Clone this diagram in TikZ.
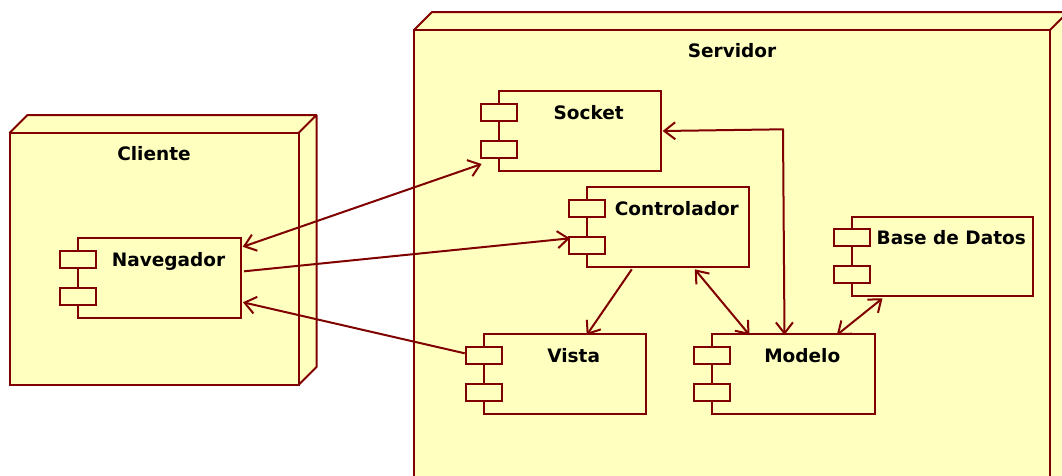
\documentclass[tikz,border=0pt]{standalone}
\usepackage{fontspec}
\setmainfont{DejaVu Sans}
\usetikzlibrary{calc,arrows.meta}
\definecolor{umlline}{RGB}{128,0,0}
\definecolor{umlfill}{RGB}{255,255,192}
\tikzset{
  box/.style={draw=umlline,fill=umlfill,line width=2pt,rectangle,inner sep=0pt,outer sep=0pt,anchor=north west},
  tabbox/.style={draw=umlline,fill=umlfill,line width=2pt,rectangle,inner sep=0pt,outer sep=0pt,minimum width=36pt,minimum height=17pt},
  lbl/.style={font=\fontsize{18.5}{20}\selectfont\bfseries,inner sep=0pt,anchor=base},
  conn/.style={draw=umlline,line width=2pt},
  tip/.tip={Straight Barb[length=11pt,width=17pt,line width=2pt]},
}
% component: name, x, y, width, height, text
\newcommand\umlcomp[6]{%
  \node[box,minimum width=#4pt,minimum height=#5pt] (#1) at (#2,#3) {};
  \node[tabbox] (#1-t1) at ($(#1.north west)+(0,21)$) {};
  \node[tabbox] (#1-t2) at ($(#1.north west)+(0,58)$) {};
  \node[lbl] (#1-l) at ($(#1.north west)+({(#4+18)/2},28)$) {#6};
}
% deployment node: name, x, y, width, height, text
\newcommand\umldepl[6]{%
  \fill[umlfill] (#2,#3) -- ++(18,-18) -- ++(#4,0) -- ++(0,#5) -- ++(-18,18) -- ++(0,-#5) -- cycle;
  \node[box,minimum width=#4pt,minimum height=#5pt] (#1) at (#2,#3) {};
  \draw[umlline,line width=2pt,line join=round] (#1.north west) -- ++(18,-18) -- ++(#4,0) -- ++(0,#5) -- (#1.south east)
     (#1.north east) -- ++(18,-18);
  \node[lbl] (#1-l) at ($(#1.north west)+({#4/2},27)$) {#6};
}
\begin{document}
\begin{tikzpicture}[x=1pt,y=-1pt]
\clip (0,0) rectangle (1062,475);
\fill[white] (0,0) rectangle (1062,475);
\umldepl{cli}{9.5}{133}{289}{252}{Cliente}
\umldepl{srv}{414}{30}{636}{480}{Servidor}
\umlcomp{nav}{78.3}{238.3}{162.4}{80}{Navegador}
\umlcomp{sock}{498.6}{91}{162}{80}{Socket}
\umlcomp{ctrl}{586.8}{187.3}{162}{79.4}{Controlador}
\umlcomp{base}{852}{216.7}{180.5}{79.3}{Base de Datos}
\umlcomp{vista}{483.7}{334.3}{162}{79.4}{Vista}
\umlcomp{mod}{712}{334.3}{162.5}{79.4}{Modelo}
% connectors
\draw[conn,tip-tip] ($(nav.north east)+(2,8.5)$) -- ($(sock.north west)+(-17,73)$);
\draw[conn,-tip] ($(nav.north east)+(3.3,33)$) -- ($(ctrl.north west)+(-16.8,51)$);
\draw[conn,-tip] ($(vista.north west)+(-19,19)$) -- ($(nav.north east)+(2.3,64)$);
\coordinate (smc) at ($(mod.north west)+(71,-205)$);
\draw[conn,tip-tip,line join=round] ($(sock.north east)+(2,40)$) -- (smc) -- ($(mod.north west)+(72.5,0.7)$);
\draw[conn,-tip] ($(ctrl.south west)+(45,2.6)$) -- ($(vista.north west)+(103,0.7)$);
\draw[conn,tip-tip] ($(ctrl.south west)+(108,2.6)$) -- ($(mod.north west)+(37.5,0.7)$);
\draw[conn,tip-tip] ($(mod.north west)+(124.8,0.7)$) -- ($(base.south west)+(30.5,2.3)$);
\end{tikzpicture}
\end{document}
